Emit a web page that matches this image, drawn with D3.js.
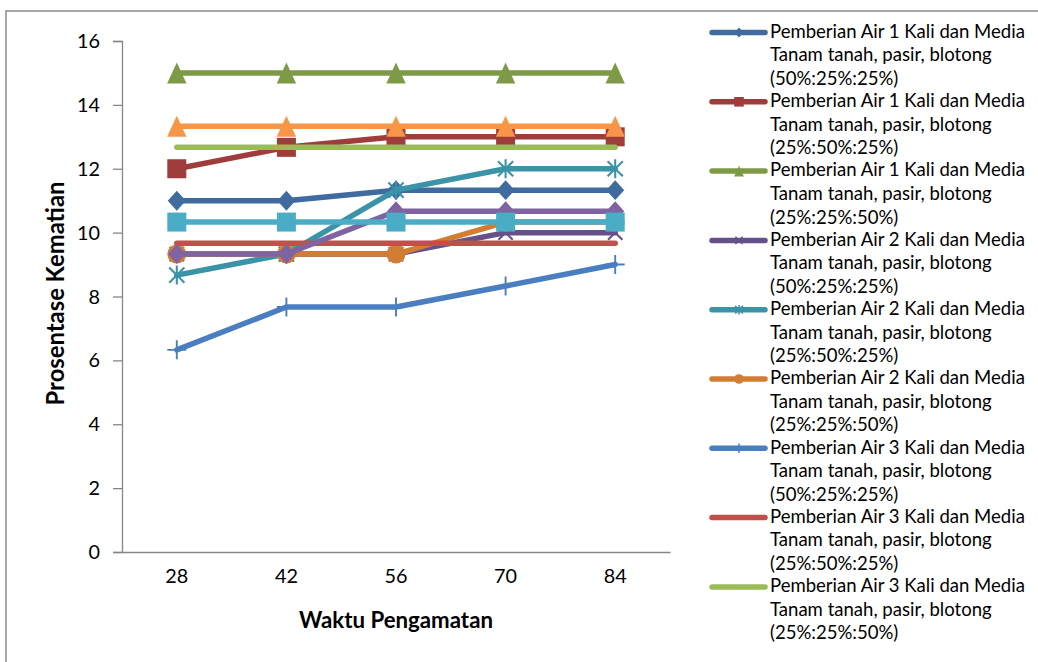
<!DOCTYPE html>
<html>
<head>
<meta charset="utf-8">
<script src="https://cdn.jsdelivr.net/npm/d3@7"></script>
<style>
  body { margin: 0; background: #fff; }
  svg { display: block; }
  text { font-family: Lato, "Open Sans", sans-serif; fill: #000; }
</style>
</head>
<body>
<svg id="chart" width="1038" height="662"></svg>
<script>
// Observation days (x categories) and y tick values
const days = ["28", "42", "56", "70", "84"];
const yTicks = [0, 2, 4, 6, 8, 10, 12, 14, 16];

// Mortality percentage per treatment
const air1_50_25_25 = [11, 11, 11.33, 11.33, 11.33];
const air1_25_50_25 = [12, 12.67, 13, 13, 13];
const air1_25_25_50 = [15, 15, 15, 15, 15];
const air2_50_25_25 = [9.33, 9.33, 9.33, 10, 10];
const air2_25_50_25 = [8.67, 9.33, 11.33, 12, 12];
const air2_25_25_50 = [9.33, 9.33, 9.33, 10.33, 10.33];
const air3_50_25_25 = [6.33, 7.67, 7.67, 8.33, 9];
const air3_25_50_25 = [9.67, 9.67, 9.67, 9.67, 9.67];
const air3_25_25_50 = [12.67, 12.67, 12.67, 12.67, 12.67];
const extra10 = [9.33, 9.33, 10.67, 10.67, 10.67];
const extra11 = [10.33, 10.33, 10.33, 10.33, 10.33];
const extra12 = [13.33, 13.33, 13.33, 13.33, 13.33];

const seriesValues = [air1_50_25_25, air1_25_50_25, air1_25_25_50,
  air2_50_25_25, air2_25_50_25, air2_25_25_50,
  air3_50_25_25, air3_25_50_25, air3_25_25_50,
  extra10, extra11, extra12];

const seriesLabels = [
  ["Pemberian Air 1 Kali dan Media", "Tanam tanah, pasir, blotong", "(50%:25%:25%)"],
  ["Pemberian Air 1 Kali dan Media", "Tanam tanah, pasir, blotong", "(25%:50%:25%)"],
  ["Pemberian Air 1 Kali dan Media", "Tanam tanah, pasir, blotong", "(25%:25%:50%)"],
  ["Pemberian Air 2 Kali dan Media", "Tanam tanah, pasir, blotong", "(50%:25%:25%)"],
  ["Pemberian Air 2 Kali dan Media", "Tanam tanah, pasir, blotong", "(25%:50%:25%)"],
  ["Pemberian Air 2 Kali dan Media", "Tanam tanah, pasir, blotong", "(25%:25%:50%)"],
  ["Pemberian Air 3 Kali dan Media", "Tanam tanah, pasir, blotong", "(50%:25%:25%)"],
  ["Pemberian Air 3 Kali dan Media", "Tanam tanah, pasir, blotong", "(25%:50%:25%)"],
  ["Pemberian Air 3 Kali dan Media", "Tanam tanah, pasir, blotong", "(25%:25%:50%)"]
];

const seriesColors = ["#3F6B9F", "#9E3D3B", "#7F9A47", "#66508A", "#3A93A6", "#D27D34",
  "#4A7EC0", "#C24F4A", "#9BBB59", "#8064A2", "#4BACC6", "#F79646"];
const seriesMarkers = ["diamond", "square", "triangle", "x", "star", "circle",
  "plus", "none", "none", "diamond", "square", "triangle"];

const svg = d3.select("#chart");

// chart frame
svg.append("rect")
  .attr("x", 6).attr("y", 11).attr("width", 1100).attr("height", 700)
  .attr("fill", "#fff")
  .attr("stroke", "#8c8c8c").attr("stroke-width", 1.5);

const plot = { left: 122, right: 670, top: 41, bottom: 552 };
const x = d3.scaleBand().domain(days).range([plot.left, plot.right]);
const cx = d => x(d) + x.bandwidth() / 2;
const y = d3.scaleLinear().domain([0, 16]).range([plot.bottom, plot.top]);

// sizing fonts to a target width
function fitSize(str, weight, target) {
  const t = svg.append("text").style("font-size", "100px").style("font-weight", weight).text(str);
  const w = t.node().getComputedTextLength();
  t.remove();
  return 100 * target / w;
}
const tickSize = fitSize("16", 400, 23);
const legendSize = fitSize("Pemberian Air 1 Kali dan Media", 400, 255);
const yTitleSize = fitSize("Prosentase Kematian", 700, 224);
const xTitleSize = fitSize("Waktu Pengamatan", 700, 194);

// axes
const axisColor = "#868686";
const yAxis = svg.append("g")
  .attr("transform", `translate(${plot.left},0)`)
  .call(d3.axisLeft(y).tickValues(yTicks).tickSize(9).tickPadding(13));
yAxis.selectAll("text").style("font-size", tickSize + "px").attr("dy", "0.33em");

const xAxis = svg.append("g")
  .attr("transform", `translate(0,${plot.bottom})`)
  .call(d3.axisBottom(x).tickSize(0).tickSizeOuter(0));
xAxis.selectAll("text").style("font-size", tickSize + "px").attr("dy", 0).attr("y", 31);

svg.selectAll(".domain, .tick line").attr("stroke", axisColor).attr("stroke-width", 1.3);

// axis titles
svg.append("text")
  .attr("transform", `translate(64,${(plot.top + plot.bottom) / 2 - 3}) rotate(-90)`)
  .attr("text-anchor", "middle")
  .style("font-size", yTitleSize + "px").style("font-weight", 700)
  .text("Prosentase Kematian");
svg.append("text")
  .attr("x", (plot.left + plot.right) / 2).attr("y", 628)
  .attr("text-anchor", "middle")
  .style("font-size", xTitleSize + "px").style("font-weight", 700)
  .text("Waktu Pengamatan");

// marker drawing
function drawMarker(g, type, color, s) {
  switch (type) {
    case "diamond":
      g.append("path").attr("d", `M0,${-s * 1.05}L${s * 0.95},0L0,${s * 1.05}L${-s * 0.95},0Z`).attr("fill", color);
      break;
    case "square":
      g.append("rect").attr("x", -s).attr("y", -s).attr("width", 2 * s).attr("height", 2 * s).attr("fill", color);
      break;
    case "triangle":
      g.append("path").attr("d", `M0,${-s * 1.1}L${s * 1.02},${s * 1.1}L${-s * 1.02},${s * 1.1}Z`).attr("fill", color);
      break;
    case "circle":
      g.append("circle").attr("r", s).attr("fill", color);
      break;
    case "x":
      g.append("path").attr("d", `M${-s * 0.75},${-s * 0.75}L${s * 0.75},${s * 0.75}M${-s * 0.75},${s * 0.75}L${s * 0.75},${-s * 0.75}`)
        .attr("stroke", color).attr("stroke-width", Math.max(1.5, s * 0.22)).attr("fill", "none");
      break;
    case "star":
      g.append("path").attr("d", `M${-s * 0.8},${-s * 0.8}L${s * 0.8},${s * 0.8}M${-s * 0.8},${s * 0.8}L${s * 0.8},${-s * 0.8}M0,${-s}L0,${s}`)
        .attr("stroke", color).attr("stroke-width", Math.max(1.5, s * 0.22)).attr("fill", "none");
      break;
    case "plus":
      g.append("path").attr("d", `M0,${-s}L0,${s}M${-s},0L${s},0`)
        .attr("stroke", color).attr("stroke-width", Math.max(1.5, s * 0.2)).attr("fill", "none");
      break;
  }
}

// series lines and markers
const line = d3.line().x((v, i) => cx(days[i])).y(v => y(v));
seriesValues.forEach((vals, si) => {
  const g = svg.append("g");
  g.append("path").attr("d", line(vals))
    .attr("fill", "none").attr("stroke", seriesColors[si]).attr("stroke-width", 5.5)
    .attr("stroke-linejoin", "round").attr("stroke-linecap", "round");
  if (seriesMarkers[si] !== "none") {
    vals.forEach((v, i) => {
      const mg = g.append("g").attr("transform", `translate(${cx(days[i])},${y(v)})`);
      drawMarker(mg, seriesMarkers[si], seriesColors[si], 9.5);
    });
  }
});

// legend
const legend = svg.append("g");
seriesLabels.forEach((lines, i) => {
  const ly = 32.5 + i * 69.3;
  const g = legend.append("g");
  g.append("line").attr("x1", 712).attr("x2", 765).attr("y1", ly).attr("y2", ly)
    .attr("stroke", seriesColors[i]).attr("stroke-width", 5.5).attr("stroke-linecap", "round");
  if (seriesMarkers[i] !== "none") {
    const mg = g.append("g").attr("transform", `translate(739,${ly})`);
    drawMarker(mg, seriesMarkers[i], seriesColors[i], 4.8);
  }
  lines.forEach((t, j) => {
    g.append("text").attr("x", 770).attr("y", ly + 5.2 + j * 23.6)
      .style("font-size", legendSize + "px").text(t);
  });
});
</script>
</body>
</html>
